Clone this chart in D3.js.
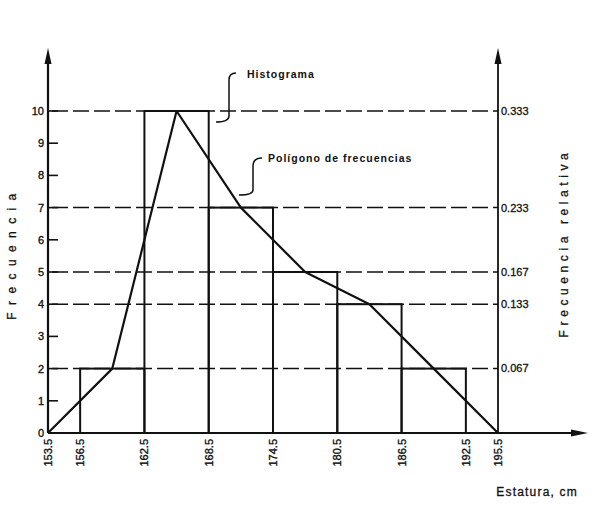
<!DOCTYPE html>
<html><head><meta charset="utf-8">
<script src="https://cdn.jsdelivr.net/npm/d3@7"></script>
<style>body{margin:0;background:#fff}svg{display:block}</style>
</head><body>
<svg id="c" width="600" height="518"></svg>
<script>
// Data
const binEdges = [156.5, 162.5, 168.5, 174.5, 180.5, 186.5, 192.5];
const frequencies = [2, 10, 7, 5, 4, 2];
const polygonX = [153.5, 159.5, 165.5, 171.5, 177.5, 183.5, 189.5, 195.5];
const polygonY = [0, 2, 10, 7, 5, 4, 2, 0];
const xTickValues = [153.5, 156.5, 162.5, 168.5, 174.5, 180.5, 186.5, 192.5, 195.5];
const yTickValues = [0, 1, 2, 3, 4, 5, 6, 7, 8, 9, 10];
const dashedLevels = [10, 7, 5, 4, 2];
const relTickLabels = ["0.333", "0.233", "0.167", "0.133", "0.067"];
const total = 30;

const svg = d3.select("#c");
const ink = "#111";
const font = "'Liberation Sans', Arial, sans-serif";

const x = d3.scaleLinear().domain([153.5, 195.5]).range([48, 498]);
const y = d3.scaleLinear().domain([0, 10]).range([433, 111]);

// dashed reference lines
svg.append("g").selectAll("line").data(dashedLevels).join("line")
  .attr("x1", x(153.5) + 4).attr("x2", x(195.5))
  .attr("y1", d => y(d)).attr("y2", d => y(d))
  .attr("stroke", ink).attr("stroke-width", 1.5)
  .attr("stroke-dasharray", "16,5");

// histogram bars
const bins = frequencies.map((f, i) => ({x0: binEdges[i], x1: binEdges[i + 1], f}));
svg.append("g").selectAll("rect").data(bins).join("rect")
  .attr("x", d => x(d.x0)).attr("width", d => x(d.x1) - x(d.x0))
  .attr("y", d => y(d.f)).attr("height", d => y(0) - y(d.f))
  .attr("fill", "none").attr("stroke", ink).attr("stroke-width", 2);

// frequency polygon
const line = d3.line().x(d => x(d[0])).y(d => y(d[1]));
svg.append("path").datum(polygonX.map((v, i) => [v, polygonY[i]]))
  .attr("d", line).attr("fill", "none").attr("stroke", ink).attr("stroke-width", 2.2)
  .attr("stroke-linejoin", "round");

// axes lines
svg.append("line").attr("x1", x(153.5)).attr("x2", 580).attr("y1", y(0)).attr("y2", y(0))
  .attr("stroke", ink).attr("stroke-width", 2);
svg.append("line").attr("x1", x(153.5)).attr("x2", x(153.5)).attr("y1", y(0)).attr("y2", 58)
  .attr("stroke", ink).attr("stroke-width", 2.2);
svg.append("line").attr("x1", x(195.5)).attr("x2", x(195.5)).attr("y1", y(0)).attr("y2", 58)
  .attr("stroke", ink).attr("stroke-width", 1.8);
// arrowheads
const arrowUp = (cx, top) => `M${cx},${top} L${cx - 3.5},${top + 16} L${cx + 3.5},${top + 16} Z`;
svg.append("path").attr("d", arrowUp(x(153.5), 48)).attr("fill", ink);
svg.append("path").attr("d", arrowUp(x(195.5), 48)).attr("fill", ink);
svg.append("path").attr("d", `M588,${y(0)} L571,${y(0) - 3.5} L571,${y(0) + 3.5} Z`).attr("fill", ink);

// left axis ticks + labels
const gl = svg.append("g");
gl.selectAll("line").data(yTickValues.filter(d => d > 0)).join("line")
  .attr("x1", x(153.5)).attr("x2", x(153.5) + 10)
  .attr("y1", d => y(d)).attr("y2", d => y(d))
  .attr("stroke", ink).attr("stroke-width", 1.6);
gl.selectAll("text").data(yTickValues).join("text")
  .attr("x", 44).attr("y", d => y(d)).attr("dy", "0.36em")
  .attr("text-anchor", "end").attr("font-family", font).attr("font-size", 11)
  .attr("fill", ink).attr("stroke", ink).attr("stroke-width", 0.35).text(d => d);

// right axis labels
svg.append("g").selectAll("text").data(relTickLabels).join("text")
  .attr("x", x(195.5) + 3).attr("y", d => y(+d * total)).attr("dy", "0.36em")
  .attr("font-family", font).attr("font-size", 11).attr("fill", ink)
  .attr("stroke", ink).attr("stroke-width", 0.3).text(d => d);

// x tick labels (rotated)
svg.append("g").selectAll("text").data(xTickValues).join("text")
  .attr("transform", d => `translate(${x(d)},439) rotate(-90)`)
  .attr("dy", "0.36em").attr("text-anchor", "end")
  .attr("font-family", font).attr("font-size", 11).attr("fill", ink)
  .attr("stroke", ink).attr("stroke-width", 0.35)
  .text(d => d3.format(".1f")(d));

// axis titles
svg.append("text").attr("transform", "translate(12,253) rotate(-90)")
  .attr("dy", "0.36em").attr("text-anchor", "middle")
  .attr("font-family", font).attr("font-size", 12).attr("letter-spacing", 7.4).attr("fill", ink)
  .attr("stroke", ink).attr("stroke-width", 0.3)
  .text("Frecuencia");
svg.append("text").attr("transform", "translate(564,243) rotate(-90)")
  .attr("dy", "0.36em").attr("text-anchor", "middle")
  .attr("font-family", font).attr("font-size", 12).attr("letter-spacing", 4.6).attr("fill", ink)
  .attr("stroke", ink).attr("stroke-width", 0.3)
  .text("Frecuencia relativa");
svg.append("text").attr("x", 578).attr("y", 496).attr("text-anchor", "end")
  .attr("font-family", font).attr("font-size", 12).attr("letter-spacing", 1.2).attr("fill", ink)
  .attr("stroke", ink).attr("stroke-width", 0.3)
  .text("Estatura, cm");

// annotations with bracket leaders
const annot = (tx, ty, label, path) => {
  svg.append("text").attr("x", tx).attr("y", ty).attr("font-family", font)
    .attr("font-size", 10.5).attr("font-weight", "bold").attr("letter-spacing", 1)
    .attr("fill", ink).text(label);
  svg.append("path").attr("d", path).attr("fill", "none").attr("stroke", ink).attr("stroke-width", 1.5);
};
annot(247, 78, "Histograma", "M236,73 Q229,73 229,80 L229,116 Q229,122 216,122");
annot(268, 162, "Polígono de frecuencias", "M262,158 Q253,158 253,166 L253,190 Q253,195 239,195");
</script>
</body></html>
